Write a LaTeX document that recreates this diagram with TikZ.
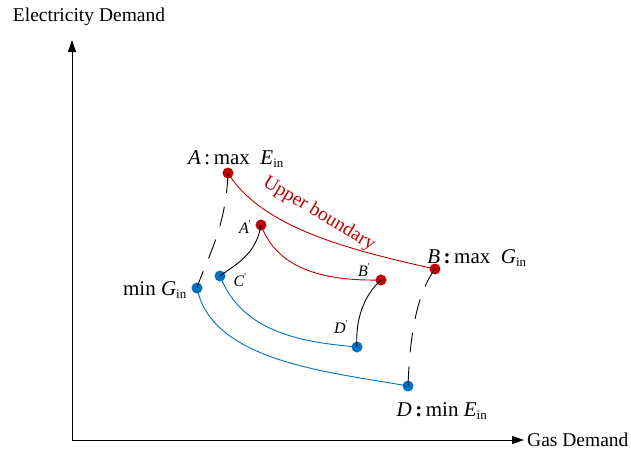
\documentclass[tikz,border=0pt]{standalone}
\usepackage{fontspec}
\setmainfont{Liberation Serif}
\usetikzlibrary{arrows.meta}
\definecolor{myred}{RGB}{192,0,0}
\definecolor{myblue}{RGB}{0,112,192}
\newcommand{\subin}{\textsubscript{\fontsize{13}{14}\selectfont in}}
\newcommand{\prm}{\textsuperscript{\fontsize{9}{9}\selectfont\upshape\textquotesingle}}
\begin{document}
\begin{tikzpicture}[x=1pt,y=-1pt,
  dotr/.style={circle,fill=myred,inner sep=0pt,minimum size=11pt},
  dotb/.style={circle,fill=myblue,inner sep=0pt,minimum size=11pt},
  redline/.style={myred,line width=0.9pt},
  blueline/.style={myblue,line width=0.9pt},
  blackline/.style={black,line width=0.9pt},
  dashline/.style={black,line width=0.9pt,dash pattern=on 20pt off 14pt},
  axis/.style={black,line width=0.9pt,-{Triangle[length=12pt,width=8pt]}},
  lab/.style={font=\fontsize{21}{24}\selectfont,inner sep=1pt},
  slab/.style={font=\fontsize{16}{18}\selectfont\itshape,inner sep=1pt},
  alab/.style={font=\fontsize{19.5}{22}\selectfont,inner sep=1pt}]
\useasboundingbox (0,0) rectangle (631,450);
% axes
\coordinate (O) at (72,440);
\coordinate (Ytop) at (72,40);
\coordinate (Xend) at (524,440);
\draw[axis] (O) -- (Ytop);
\draw[axis] (O) -- (Xend);
\node[alab] (ylab) at (89,17) {Electricity Demand};
\node[alab,anchor=west] (xlab) at (526,440) {Gas Demand};
% points
\node[dotr] (A) at (228,173) {};
\node[dotr] (Ap) at (261,225) {};
\node[dotr] (B) at (435,269) {};
\node[dotr] (Bp) at (381,280) {};
\node[dotb] (C) at (220,276) {};
\node[dotb] (G) at (197,288) {};
\node[dotb] (Dp) at (357,347) {};
\node[dotb] (D) at (408,386) {};
% curves
\draw[redline] (A.center) .. controls (262,228) and (350,250) .. (B.center);
\draw[redline] (Ap.center) .. controls (278,272) and (330,281) .. (Bp.center);
\draw[blueline] (C.center) .. controls (242,332) and (300,342) .. (Dp.center);
\draw[blueline] (G.center) .. controls (212,362) and (330,372) .. (D.center);
\draw[blackline] (Ap.center) .. controls (256,255) and (236,264) .. (C.center);
\draw[blackline] (Bp.center) .. controls (364,295) and (355,320) .. (Dp.center);
\draw[dashline] (A.center) .. controls (226,230) and (205,262) .. (G.center);
\draw[dashline] (B.center) .. controls (418,292) and (410,330) .. (D.center);
% labels
\node[lab] (Alab) at (236,159) {\textit{A}\,:\,max\ \ \textit{E}\subin};
\node[lab] (Blab) at (477,258) {\textit{B}\,\textbf{:}\,max\ \ \textit{G}\subin};
\node[lab] (Glab) at (155,290) {min \textit{G}\subin};
\node[lab] (Dlab) at (442,411) {\textit{D}\,\textbf{:}\,min \textit{E}\subin};
\node[slab] (Aplab) at (245,227) {A\prm};
\node[slab] (Bplab) at (364,270) {B\prm};
\node[slab] (Cplab) at (240,280) {C\prm};
\node[slab] (Dplab) at (341,327) {D\prm};
\node[font=\fontsize{19.5}{22}\selectfont,text=myred,rotate=-31] (ub) at (319,214) {Upper boundary};
\end{tikzpicture}
\end{document}
